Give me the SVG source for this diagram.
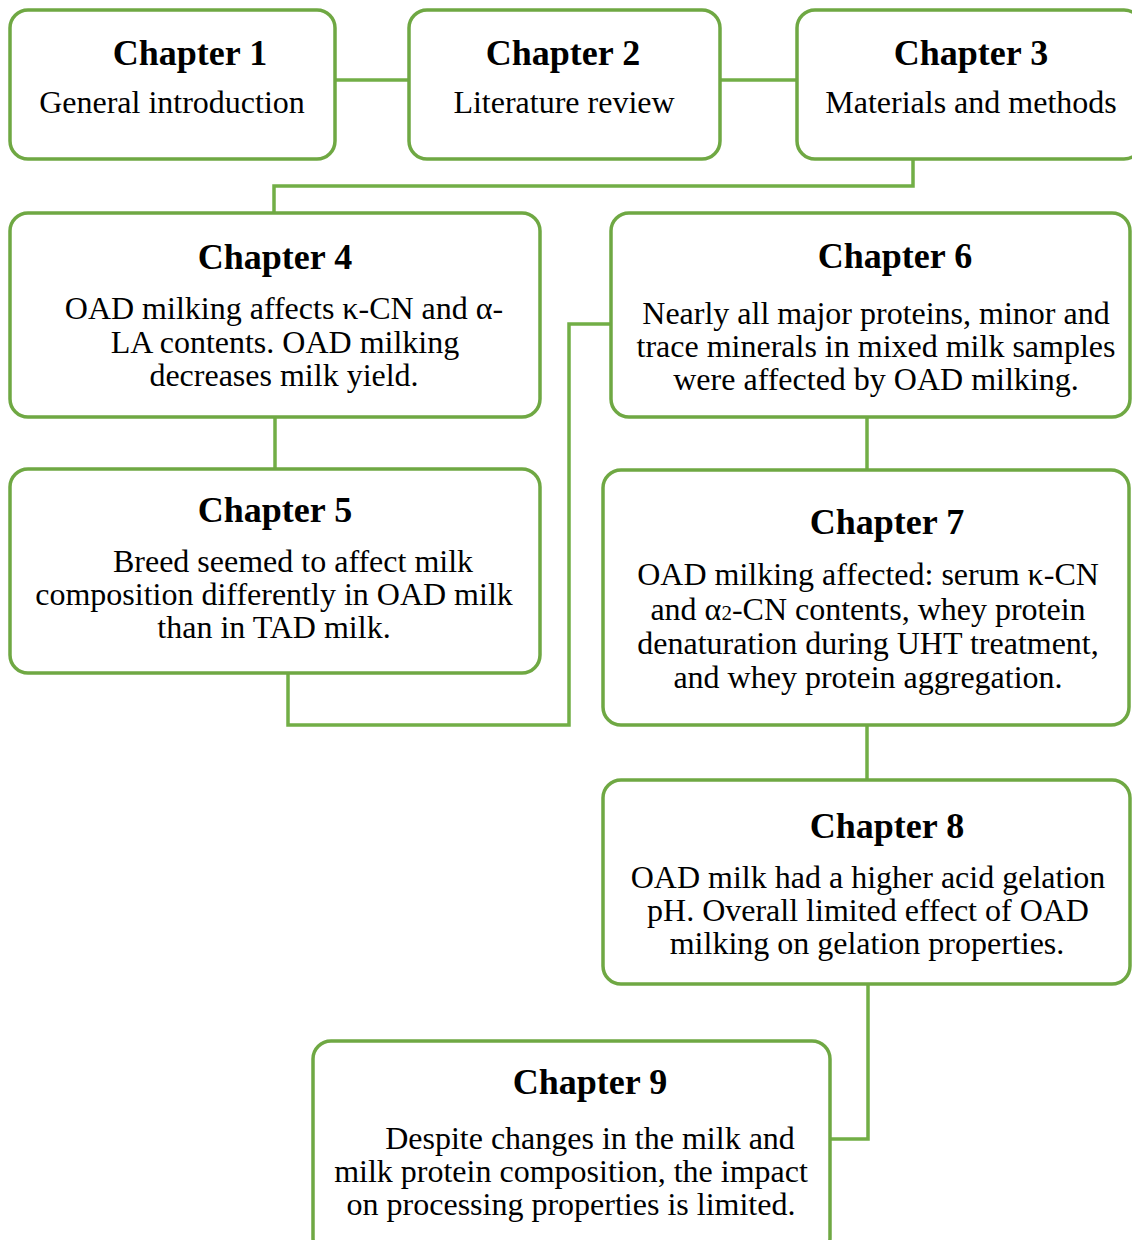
<svg xmlns="http://www.w3.org/2000/svg" width="1132" height="1240" viewBox="0 0 1132 1240">
<style>
.box{fill:#ffffff;stroke:#6FA843;stroke-width:3.5}
.con{fill:none;stroke:#72AE46;stroke-width:3.5}
.h{font-family:"Liberation Serif","Times New Roman",serif;font-weight:bold;font-size:36px;fill:#000;text-anchor:middle}
.t{font-family:"Liberation Serif","Times New Roman",serif;font-size:32px;fill:#000;text-anchor:middle}
</style>
<rect width="1132" height="1240" fill="#ffffff"/>
<g id="connectors">
<path class="con" d="M335 80 H409"/>
<path class="con" d="M720 80 H797"/>
<path class="con" d="M913 159 V186 H274 V213"/>
<path class="con" d="M275 417 V469"/>
<path class="con" d="M288 673 V725 H569 V324 H611"/>
<path class="con" d="M867 417 V470"/>
<path class="con" d="M867 725 V780"/>
<path class="con" d="M868 984 V1139 H830"/>
</g>
<g id="ch1">
<rect class="box" x="10" y="10" width="325" height="149" rx="18"/>
<text class="h" x="190" y="65">Chapter 1</text>
<text class="t" x="172" y="113">General introduction</text>
</g>
<g id="ch2">
<rect class="box" x="409" y="10" width="311" height="149" rx="18"/>
<text class="h" x="563" y="65">Chapter 2</text>
<text class="t" x="564" y="113">Literature review</text>
</g>
<g id="ch3">
<rect class="box" x="797" y="10" width="345" height="149" rx="18"/>
<text class="h" x="971" y="65">Chapter 3</text>
<text class="t" x="971" y="113">Materials and methods</text>
</g>
<g id="ch4">
<rect class="box" x="10" y="213" width="530" height="204" rx="18"/>
<text class="h" x="275" y="269">Chapter 4</text>
<text class="t" x="284" y="319">OAD milking affects κ-CN and α-</text>
<text class="t" x="285" y="353">LA contents. OAD milking</text>
<text class="t" x="284" y="386">decreases milk yield.</text>
</g>
<g id="ch5">
<rect class="box" x="10" y="469" width="530" height="204" rx="18"/>
<text class="h" x="275" y="522">Chapter 5</text>
<text class="t" x="293" y="572">Breed seemed to affect milk</text>
<text class="t" x="274" y="605">composition differently in OAD milk</text>
<text class="t" x="274" y="638">than in TAD milk.</text>
</g>
<g id="ch6">
<rect class="box" x="611" y="213" width="519" height="204" rx="18"/>
<text class="h" x="895" y="268">Chapter 6</text>
<text class="t" x="876" y="324">Nearly all major proteins, minor and</text>
<text class="t" x="876" y="357">trace minerals in mixed milk samples</text>
<text class="t" x="876" y="390">were affected by OAD milking.</text>
</g>
<g id="ch7">
<rect class="box" x="603" y="470" width="526" height="255" rx="18"/>
<text class="h" x="887" y="534">Chapter 7</text>
<text class="t" x="868" y="585">OAD milking affected: serum κ-CN</text>
<text class="t" x="868" y="620">and α<tspan font-size="21">2</tspan>-CN contents, whey protein</text>
<text class="t" x="868" y="654">denaturation during UHT treatment,</text>
<text class="t" x="868" y="688">and whey protein aggregation.</text>
</g>
<g id="ch8">
<rect class="box" x="603" y="780" width="527" height="204" rx="18"/>
<text class="h" x="887" y="838">Chapter 8</text>
<text class="t" x="868" y="888">OAD milk had a higher acid gelation</text>
<text class="t" x="868" y="921">pH. Overall limited effect of OAD</text>
<text class="t" x="867" y="954">milking on gelation properties.</text>
</g>
<g id="ch9">
<rect class="box" x="313" y="1041" width="517" height="215" rx="18"/>
<text class="h" x="590" y="1094">Chapter 9</text>
<text class="t" x="590" y="1149">Despite changes in the milk and</text>
<text class="t" x="571" y="1182">milk protein composition, the impact</text>
<text class="t" x="571" y="1215">on processing properties is limited.</text>
</g>
</svg>
